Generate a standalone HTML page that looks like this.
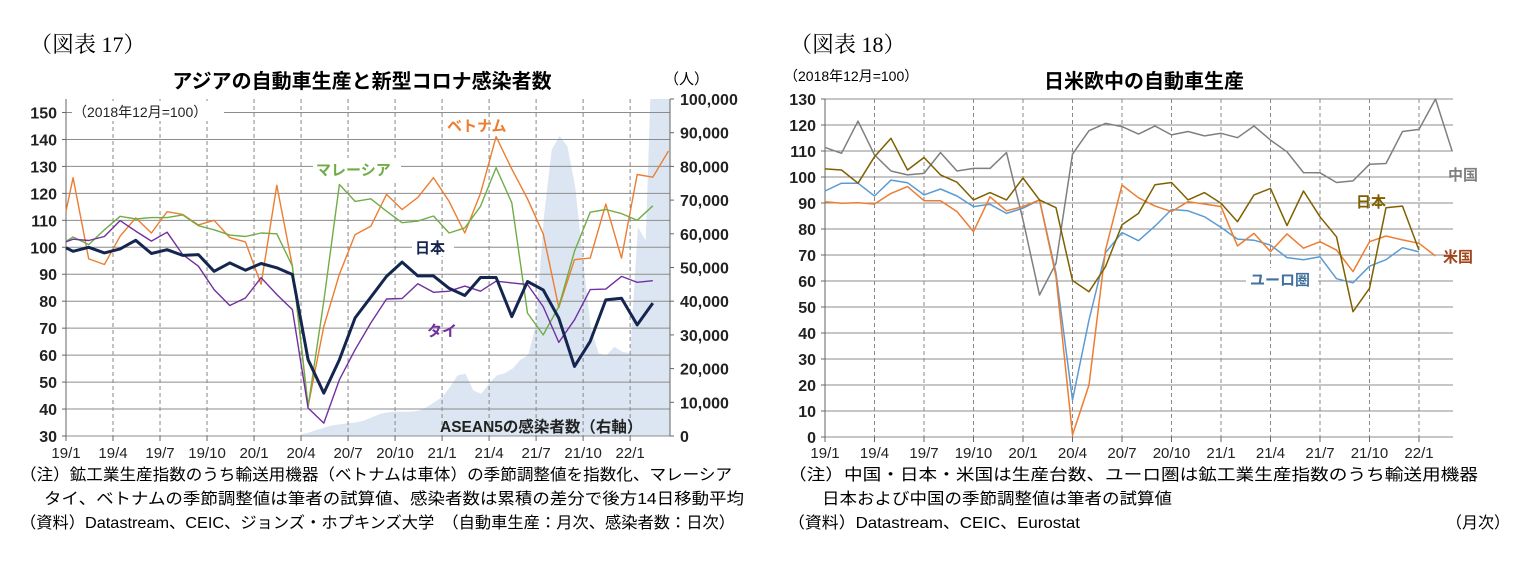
<!DOCTYPE html>
<html><head><meta charset="utf-8"><style>
html,body{margin:0;padding:0;background:#fff;}
svg{display:block;font-family:"Liberation Sans","Noto Sans CJK JP",sans-serif;}
</style></head><body>
<svg id="s" width="1519" height="571" viewBox="0 0 1519 571">
<defs><clipPath id="c1"><rect x="66" y="99" width="604" height="337"/></clipPath></defs>
<rect width="1519" height="571" fill="#fff"/>
<text x="30" y="52" font-family="Liberation Serif,'Noto Serif CJK SC',serif" font-size="22">（図表 17）</text>
<text x="362" y="88" text-anchor="middle" font-size="20" font-weight="bold">アジアの自動車生産と新型コロナ感染者数</text>
<text x="664" y="84" font-size="15">（人）</text>
<text x="790" y="52" font-family="Liberation Serif,'Noto Serif CJK SC',serif" font-size="22">（図表 18）</text>
<text x="1144" y="88" text-anchor="middle" font-size="20" font-weight="bold">日米欧中の自動車生産</text>
<text x="784" y="81" font-size="14">（2018年12月=100）</text>
<g id="g1"></g>
<g id="g2"></g>
<g font-size="16">
<text x="20" y="480" textLength="712" lengthAdjust="spacingAndGlyphs">（注）鉱工業生産指数のうち輸送用機器（ベトナムは車体）の季節調整値を指数化、マレーシア</text>
<text x="44" y="504" textLength="700" lengthAdjust="spacingAndGlyphs">タイ、ベトナムの季節調整値は筆者の試算値、感染者数は累積の差分で後方14日移動平均</text>
<text x="20" y="528" textLength="715" lengthAdjust="spacingAndGlyphs">（資料）Datastream、CEIC、ジョンズ・ホプキンズ大学　（自動車生産：月次、感染者数：日次）</text>
<text x="788" y="480" textLength="690" lengthAdjust="spacingAndGlyphs">（注）中国・日本・米国は生産台数、ユーロ圏は鉱工業生産指数のうち輸送用機器</text>
<text x="822" y="504" textLength="350" lengthAdjust="spacingAndGlyphs">日本および中国の季節調整値は筆者の試算値</text>
<text x="788" y="528" textLength="292" lengthAdjust="spacingAndGlyphs">（資料）Datastream、CEIC、Eurostat</text>
<text x="1446" y="528">（月次）</text>
</g>
</svg>
<script>
// ---- Chart 1 data (k=0 is 18/12, k=1 is 19/1) ----
const xLabels1 = ["19/1","19/4","19/7","19/10","20/1","20/4","20/7","20/10","21/1","21/4","21/7","21/10","22/1"];
const leftTicks1 = [30,40,50,60,70,80,90,100,110,120,130,140,150];
const rightTicks1 = [0,10000,20000,30000,40000,50000,60000,70000,80000,90000,100000];
const japan1 = [99.8,98.5,100,97.9,99.4,102.6,97.7,99.1,97,97.3,91.1,94.2,91.5,94,92.4,89.9,58.3,45.9,58.3,73.8,81.5,89.2,94.5,89.4,89.4,84.8,82.1,88.8,88.8,74.3,87.3,84.2,73.7,55.8,65.1,80.5,81.1,71.2,79.3];
const vietnam = [113.4,125.8,95.7,93.6,104.1,110.9,105.3,113.2,112.2,108.3,110,103.6,102,86.3,123,93,41,70.6,90,104.7,107.8,119.6,114,118.5,125.8,117,105.3,120,141,129,118,105,77.6,95.4,96,116,96,127,126,135.7];
const malaysia = [102.2,103.8,101,106.5,111.5,110.5,111,111,112,108,106.5,104.5,104,105.3,105,93,41,80,123.3,117,118,113.4,109.1,109.7,111.6,105.3,107.2,115.2,129.5,116.5,75.6,67.5,78,98.5,113,114,112.5,110,115.4];
const thai = [102,103,102.5,104,109.9,106,102.3,105.6,97.3,93,84.3,78.4,81.2,88.7,82.5,76.9,40.4,34.8,50.9,62,71.9,80.8,81,86.5,83.3,83.7,85.6,83.7,87.4,86.8,86.2,78,64.7,73.1,84.3,84.5,89.2,87,87.6];
// ASEAN5 infections, half-month steps from 20/4
const asean = [500,1000,1800,2500,3200,3500,3800,4000,4500,5500,6500,7000,7200,7200,7200,7500,8500,10000,11500,14500,18000,18500,13500,12500,15500,18000,18600,20000,22600,24000,33000,65000,85000,89000,86000,74000,52000,32000,24500,24000,26500,25000,24600,62000,58000,130000,130000,130000];

// ---- Chart 2 data (k=0 is 19/1) ----
const xLabels2 = xLabels1;
const ticks2 = [0,10,20,30,40,50,60,70,80,90,100,110,120,130];
const china = [111.4,109.1,121.5,108.5,102.3,100.8,101.4,109.4,102.3,103.3,103.3,109.4,83.5,54.6,66.8,108.8,117.8,120.6,119.4,116.5,119.6,116.2,117.5,115.8,116.8,115.1,119.6,114.2,109.7,101.7,101.6,97.9,98.5,104.9,105.2,117.5,118.3,130,110.1];
const japan2 = [103.1,102.7,97.6,107.8,114.9,102.7,107.5,100.8,98,91.2,94,91.2,99.6,91.2,88.2,60.2,55.9,65.5,81.6,86,97,97.9,91.2,94,89.9,82.8,93.1,95.6,81.3,94.6,84.7,77,48.2,57.2,88.2,88.8,71.9];
const euro = [94.6,97.6,97.6,92.7,98.8,97.8,93.1,95.4,92.7,88.6,89.5,86,88,91.2,63,14.2,45,70.9,78.6,75.5,81.1,87.5,87,84.7,80.6,76.1,75.7,73.8,69,68.2,69.3,60.9,59.3,65.7,68.2,72.8,71.2];
const us = [90.5,89.9,90.1,89.6,93.7,96.3,90.9,90.9,86.7,79,92.4,87,88.6,91.2,61.7,0.8,20,71.9,96.9,92,88.8,86.7,90.5,89.6,88.6,73.5,78.3,71.3,78.1,72.6,75.1,71.9,63.6,75.1,77.3,75.8,74.5,69.6];

const NS="http://www.w3.org/2000/svg";
function mk(parent,tag,attrs){const e=document.createElementNS(NS,tag);for(const k in attrs)e.setAttribute(k,attrs[k]);parent.appendChild(e);return e;}

// ----- Chart 1 -----
const g1=document.getElementById('g1');
const L1=66,R1=670,T1=99,B1=436,MW1=15.67;
const y1=v=>B1-(v-30)*(B1-T1)/125;
const yr1=v=>B1-v*(B1-T1)/100000;
const xm1=k=>Math.max(L1,L1+(k-0.55)*MW1);
const xa1=j=>301+j*MW1/2;
let d="M"+xa1(0)+","+B1;
asean.forEach((v,j)=>{d+=" L"+xa1(j).toFixed(1)+","+yr1(v).toFixed(1);});
d+=" L"+R1+","+yr1(asean[asean.length-1])+" L"+R1+","+B1+" Z";
const area=mk(g1,'path',{d:d,fill:'#dce6f2','clip-path':'url(#c1)'});


leftTicks1.forEach(v=>{
  const l=mk(g1,'line',{x1:L1,x2:R1,y1:y1(v),y2:y1(v),stroke:'#8c8c8c','stroke-width':1});
  
  
  const t=mk(g1,'text',{x:57,y:y1(v)+6,'text-anchor':'end','font-size':16,'font-weight':'bold',fill:'#222'});t.textContent=v;
  
  
  mk(g1,'line',{x1:L1-4,x2:L1,y1:y1(v),y2:y1(v),stroke:'#666'});
});
rightTicks1.forEach(v=>{
  const t=mk(g1,'text',{x:680,y:yr1(v)+6,'font-size':16,'font-weight':'bold',fill:'#222'});t.textContent=v.toLocaleString('en-US');
  
  
  mk(g1,'line',{x1:R1,x2:R1+4,y1:yr1(v),y2:yr1(v),stroke:'#666'});
});
xLabels1.forEach((s,i)=>{
  const x=L1+i*3*MW1;
  if(i>0){const l=mk(g1,'line',{x1:x,x2:x,y1:T1,y2:B1,stroke:'#888','stroke-dasharray':'4,3'});
  
  }
  mk(g1,'line',{x1:x,x2:x,y1:B1,y2:B1+5,stroke:'#666'});
  const t=mk(g1,'text',{x:x,y:458,'text-anchor':'middle','font-size':15,fill:'#222'});t.textContent=s;
  
  
});
mk(g1,'line',{x1:L1,x2:L1,y1:T1,y2:B1,stroke:'#666'});
mk(g1,'line',{x1:R1,x2:R1,y1:T1,y2:B1,stroke:'#666'});
const bn=mk(g1,'rect',{x:72,y:101,width:152,height:20,fill:'#fff'});


const bt=mk(g1,'text',{x:73,y:117,'font-size':14,fill:'#222'});bt.textContent='（2018年12月=100）';


function line1(arr,color,w,name){
  const p=mk(g1,'polyline',{points:arr.map((v,k)=>xm1(k).toFixed(1)+","+y1(v).toFixed(1)).join(" "),fill:'none',stroke:color,'stroke-width':w,'stroke-linejoin':'round'});
  
  
}
line1(vietnam,'#ed7d31',1.4,'vietnam-line');
line1(malaysia,'#70ad47',1.4,'malaysia-line');
line1(thai,'#7030a0',1.4,'thailand-line');
line1(japan1,'#14254f',3,'japan-line');
function lab(g,x,y,s,c,name,fs){const t=mk(g,'text',{x:x,y:y,'font-size':fs||15,'font-weight':'bold',fill:c});t.textContent=s;
  
  return t;}
const mb=mk(g1,'rect',{x:313,y:158,width:88,height:22,fill:'#fff'});


lab(g1,447,131,'ベトナム','#ed7d31','vietnam-label');
lab(g1,316,175,'マレーシア','#70ad47','malaysia-label');
const jb=mk(g1,'rect',{x:412,y:236,width:42,height:20,fill:'#fff'});


lab(g1,415,253,'日本','#14254f','japan-label');
lab(g1,427,336,'タイ','#7030a0','thailand-label');
lab(g1,440,432,'ASEAN5の感染者数（右軸）','#222','asean5-label',15.5);

// ----- Chart 2 -----
const g2=document.getElementById('g2');
const L2=825,R2=1453,T2=99,B2=437,MW2=16.5;
const y2=v=>B2-v*(B2-T2)/130;
const x2=k=>L2+k*MW2;
ticks2.forEach(v=>{
  const l=mk(g2,'line',{x1:L2,x2:R2,y1:y2(v),y2:y2(v),stroke:'#8c8c8c'});
  
  
  const t=mk(g2,'text',{x:816,y:y2(v)+6,'text-anchor':'end','font-size':16,'font-weight':'bold',fill:'#222'});t.textContent=v;
  
  
  mk(g2,'line',{x1:L2-4,x2:L2,y1:y2(v),y2:y2(v),stroke:'#666'});
});
xLabels2.forEach((s,i)=>{
  const x=x2(i*3);
  if(i>0){const l=mk(g2,'line',{x1:x,x2:x,y1:T2,y2:B2,stroke:'#888','stroke-dasharray':'4,3'});
  
  }
  mk(g2,'line',{x1:x,x2:x,y1:B2,y2:B2+5,stroke:'#666'});
  const t=mk(g2,'text',{x:x,y:458,'text-anchor':'middle','font-size':15,fill:'#222'});t.textContent=s;
  
  
});
mk(g2,'line',{x1:L2,x2:L2,y1:T2,y2:B2,stroke:'#666'});
function line2(arr,color,name){
  const p=mk(g2,'polyline',{points:arr.map((v,k)=>x2(k).toFixed(1)+","+y2(v).toFixed(1)).join(" "),fill:'none',stroke:color,'stroke-width':1.5,'stroke-linejoin':'round'});
  
  
}
line2(china,'#7f7f7f','china-line');
line2(euro,'#5b9bd5','eurozone-line');
line2(us,'#ed7d31','us-line');
line2(japan2,'#7f6000','japan2-line');
lab(g2,1448,180,'中国','#7f7f7f','china-label');
lab(g2,1356,207,'日本','#7f6000','japan2-label');
lab(g2,1443,262,'米国','#a0441a','us-label');
const eb=mk(g2,'rect',{x:1246,y:268,width:72,height:20,fill:'#fff'});


lab(g2,1250,285,'ユーロ圏','#41719c','eurozone-label');
</script>
</body></html>
